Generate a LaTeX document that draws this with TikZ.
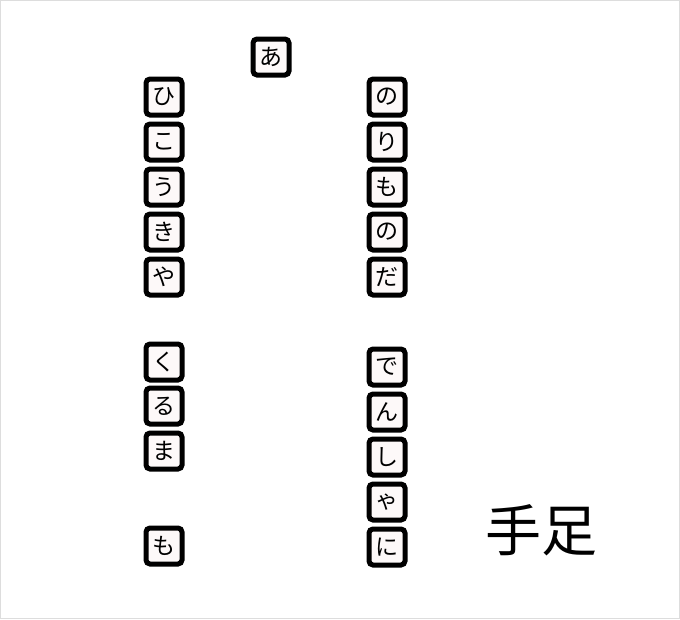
\documentclass[tikz,border=0pt]{standalone}
\usepackage{fontspec}
\usepackage{xcolor}
\usepackage{tikz}
\newfontfamily\jpfont{Noto Sans CJK JP}
\definecolor{tilefill}{RGB}{253,249,249}
\definecolor{frame}{RGB}{221,221,221}

\begin{document}
\begin{tikzpicture}[x=1pt, y=-1pt,
    tile/.style={draw, rectangle, rounded corners=4pt, line width=5pt, fill=tilefill,
        minimum width=36pt, minimum height=36pt, inner sep=0pt,
        font=\jpfont\fontsize{23}{23}\selectfont},
    big/.style={font=\jpfont\fontsize{56}{56}\selectfont, inner sep=0pt}]
            \useasboundingbox (0,0) rectangle (680,619);
            \draw[frame, line width=1pt] (0.5,0.5) rectangle (679.5,618.5);

            \node[tile] (a) at (271,57) {あ};

            \node[tile] (hi) at (164,97) {ひ};
            \node[tile] (ko) at (164,142) {こ};
            \node[tile] (u) at (164,187) {う};
            \node[tile] (ki) at (164,232) {き};
            \node[tile] (ya) at (164,277) {や};

            \node[tile] (ku) at (164,362) {く};
            \node[tile] (ru) at (164,406) {る};
            \node[tile] (ma) at (164,451) {ま};

            \node[tile] (mo) at (164,546) {も};

            \node[tile] (no1) at (387,97) {の};
            \node[tile] (ri) at (387,142) {り};
            \node[tile] (mo2) at (387,187) {も};
            \node[tile] (no2) at (387,232) {の};
            \node[tile] (da) at (387,277) {だ};

            \node[tile] (de) at (387,367) {で};
            \node[tile] (n) at (387,412) {ん};
            \node[tile] (shi) at (387,457) {し};
            \node[tile] (xya) at (387,502) {ゃ};
            \node[tile] (ni) at (387,547) {に};

            \node[big] (teashi) at (541,530) {手足};
        \end{tikzpicture}
\end{document}
